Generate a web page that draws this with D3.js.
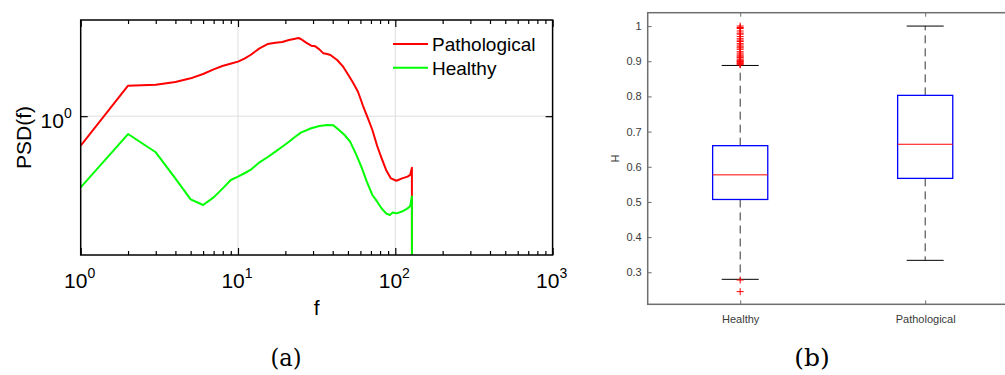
<!DOCTYPE html>
<html><head><meta charset="utf-8">
<script src="https://cdn.jsdelivr.net/npm/d3@7"></script>
<style>body{margin:0;background:#fff}svg{display:block}</style>
</head><body><svg id="c" width="1005" height="375"></svg>
<script>
// ---- Panel (a) data ----
const freqPath = [1,2,3,4,5,6,7,7.95,8.95,10,11,12,13.7,15.4,17.3,19.1,21.1,23.1,24.2,25.1,27.1,29.2,31,32.9,34.9,36.9,38.7,42.7,46.6,50.3,53.9,57.9,62.4,67,71.5,76.7,81.9,87.4,93.8,101.7,110.4,119.7,124.4,127.5,128];
const psdPath = [0.710,1.424,1.441,1.486,1.551,1.631,1.721,1.789,1.838,1.882,1.948,2.033,2.196,2.309,2.345,2.363,2.418,2.456,2.476,2.447,2.345,2.265,2.247,2.170,2.072,2.056,2.033,1.918,1.775,1.612,1.475,1.328,1.125,0.975,0.852,0.708,0.613,0.536,0.486,0.473,0.486,0.496,0.506,0.550,0.001];
const freqHealthy = [1,2,3,3.92,5,6,7,8,9,10,11,12,13.7,15.4,17.3,19.1,21.1,23.1,25.1,29.2,32.9,36.9,40.4,43.9,47.6,51.6,56,60.8,65.9,71.5,76.7,81.9,87.4,92.3,96.4,101.7,110.4,119.7,124.4,127.5,128];
const psdHealthy = [0.438,0.813,0.658,0.496,0.381,0.357,0.390,0.433,0.477,0.496,0.516,0.536,0.586,0.621,0.663,0.702,0.744,0.788,0.826,0.869,0.892,0.903,0.899,0.852,0.804,0.744,0.650,0.557,0.468,0.401,0.371,0.343,0.324,0.318,0.327,0.324,0.331,0.343,0.353,0.394,0.001];
const seriesNames = ["Pathological","Healthy"];
const seriesColors = ["#ff0000","#00ff00"];
const xMajorTicks = [1,10,100,1000];
const xTickExponents = ["0","1","2","3"];
const yMajorTicks = [1];
const yTickExponents = ["0"];

// ---- Panel (b) data ----
const boxCategories = ["Healthy","Pathological"];
const boxQ1 = [0.507,0.567];
const boxMedian = [0.577,0.664];
const boxQ3 = [0.660,0.803];
const whiskerLow = [0.280,0.334];
const whiskerHigh = [0.888,1.0];
const outliersHealthy = [1.0,0.996,0.993,0.986,0.98,0.977,0.970,0.964,0.96,0.956,0.95,0.946,0.941,0.938,0.934,0.927,0.923,0.918,0.915,0.912,0.910,0.906,0.903,0.901,0.899,0.896,0.894,0.892,0.89,0.278,0.245];
const outliersPathological = [];
const boxYTicks = [0.3,0.4,0.5,0.6,0.7,0.8,0.9,1];

const svg = d3.select("#c");
svg.append("rect").attr("width",1005).attr("height",375).attr("fill","#fff");

// ================= Panel (a) =================
const A = {l:80.7, r:552.6, t:20, b:255};
const xA = d3.scaleLog().domain([1,1000]).range([A.l,A.r]);
const yA = d3.scaleLog().domain([0.2,3.05]).range([A.b,A.t]);
const gA = svg.append("g");

// grid
gA.selectAll(".gx").data([10,100]).enter().append("line")
  .attr("x1",d=>xA(d)).attr("x2",d=>xA(d)).attr("y1",A.t).attr("y2",A.b)
  .attr("stroke","#dddddd").attr("stroke-width",1);
gA.selectAll(".gy").data(yMajorTicks).enter().append("line")
  .attr("x1",A.l).attr("x2",A.r).attr("y1",d=>yA(d)).attr("y2",d=>yA(d))
  .attr("stroke","#dddddd").attr("stroke-width",1);

// clip
svg.append("clipPath").attr("id","clipA").append("rect")
  .attr("x",A.l).attr("y",A.t).attr("width",A.r-A.l).attr("height",A.b-A.t);

const line = d3.line().x(d=>xA(d[0])).y(d=>yA(d[1]));
const seriesData = [d3.zip(freqPath,psdPath), d3.zip(freqHealthy,psdHealthy)];
gA.append("g").attr("clip-path","url(#clipA)").selectAll("path").data(seriesData).enter().append("path")
  .attr("d",line).attr("fill","none").attr("stroke",(d,i)=>seriesColors[i]).attr("stroke-width",2)
  .attr("stroke-linejoin","round");

// minor ticks
const minor = [];
for (let e=0;e<3;e++) for (let k=2;k<=9;k++) minor.push(k*Math.pow(10,e));
function styleAxis(g){ g.select(".domain").remove(); g.selectAll("line").attr("stroke","#000").attr("stroke-width",1.2); g.selectAll("text").remove(); }
gA.append("g").attr("transform",`translate(0,${A.b})`).call(d3.axisBottom(xA).tickValues(minor).tickSize(-4)).call(styleAxis);
gA.append("g").attr("transform",`translate(0,${A.t})`).call(d3.axisTop(xA).tickValues(minor).tickSize(-4)).call(styleAxis);
gA.append("g").attr("transform",`translate(0,${A.b})`).call(d3.axisBottom(xA).tickValues(xMajorTicks).tickSize(-7)).call(styleAxis);
gA.append("g").attr("transform",`translate(0,${A.t})`).call(d3.axisTop(xA).tickValues(xMajorTicks).tickSize(-7)).call(styleAxis);
gA.append("g").attr("transform",`translate(${A.l},0)`).call(d3.axisLeft(yA).tickValues(yMajorTicks).tickSize(-7)).call(styleAxis);
gA.append("g").attr("transform",`translate(${A.r},0)`).call(d3.axisRight(yA).tickValues(yMajorTicks).tickSize(-7)).call(styleAxis);

// box
gA.append("rect").attr("x",A.l).attr("y",A.t).attr("width",A.r-A.l).attr("height",A.b-A.t)
  .attr("fill","none").attr("stroke","#000").attr("stroke-width",1.5);

const fontA = "'Liberation Sans', Arial, sans-serif";
// x tick labels
const xl = gA.selectAll(".xl").data(xMajorTicks).enter().append("text")
  .attr("x",d=>xA(d)-1).attr("y",288).attr("text-anchor","middle")
  .attr("font-family",fontA).attr("font-size",21).attr("fill","#000");
xl.append("tspan").text("10");
xl.append("tspan").attr("dy",-10).attr("font-size",14).text((d,i)=>xTickExponents[i]);
// y tick labels
const yl = gA.selectAll(".yl").data(yMajorTicks).enter().append("text")
  .attr("x",A.l-9).attr("y",d=>yA(d)+11.5).attr("text-anchor","end")
  .attr("font-family",fontA).attr("font-size",21).attr("fill","#000");
yl.append("tspan").text("10");
yl.append("tspan").attr("dy",-10).attr("font-size",14).text((d,i)=>yTickExponents[i]);
// axis labels
gA.append("text").attr("x",(A.l+A.r)/2).attr("y",315).attr("text-anchor","middle")
  .attr("font-family",fontA).attr("font-size",21).text("f");
gA.append("text").attr("transform",`translate(31,${(A.t+A.b)/2}) rotate(-90)`).attr("text-anchor","middle")
  .attr("font-family",fontA).attr("font-size",21).text("PSD(f)");

// legend
const leg = gA.selectAll(".leg").data(seriesNames).enter().append("g")
  .attr("transform",(d,i)=>`translate(393,${44+i*23.7})`);
leg.append("line").attr("x1",0).attr("x2",35).attr("y1",0).attr("y2",0)
  .attr("stroke",(d,i)=>seriesColors[i]).attr("stroke-width",2);
leg.append("text").attr("x",39).attr("y",7).attr("font-family",fontA).attr("font-size",19).attr("fill","#000").text(d=>d);

// caption
const capFont = "'DejaVu Serif','Liberation Serif',serif";
svg.append("text").attr("x",286).attr("y",366).attr("text-anchor","middle")
  .attr("font-family",capFont).attr("font-size",25).attr("font-stretch","condensed").text("(a)");
svg.append("text").attr("x",812).attr("y",366).attr("text-anchor","middle")
  .attr("font-family",capFont).attr("font-size",25).text("(b)");

// ================= Panel (b) =================
const B = {l:647.7, r:1017.7, t:12.7, b:304.3};
const xB = d3.scaleLinear().domain([0.5,2.5]).range([B.l,B.r]);
const yB = d3.scaleLinear().domain([0.209,1.038]).range([B.b,B.t]);
const gB = svg.append("g");
const axisCol = "#6e6e6e";
const textCol = "#3a3a3a";
const fontB = "'Liberation Sans', Arial, sans-serif";

function styleB(g){ g.select(".domain").remove(); g.selectAll("line").attr("stroke",axisCol).attr("stroke-width",1); g.selectAll("text").attr("fill",textCol).attr("font-family",fontB).attr("font-size",11); }
gB.append("g").attr("transform",`translate(${B.l},0)`)
  .call(d3.axisLeft(yB).tickValues(boxYTicks).tickSize(-4).tickPadding(6).tickFormat(d3.format("~g"))).call(styleB);
gB.append("g").attr("transform",`translate(0,${B.b})`)
  .call(d3.axisBottom(xB).tickValues([1,2]).tickSize(-4).tickPadding(11).tickFormat((d,i)=>boxCategories[i])).call(styleB);
gB.append("g").attr("transform",`translate(0,${B.t})`)
  .call(d3.axisTop(xB).tickValues([1,2]).tickSize(-4).tickFormat("")).call(styleB);

// frame (right side off-canvas)
gB.append("rect").attr("x",B.l).attr("y",B.t).attr("width",B.r-B.l).attr("height",B.b-B.t)
  .attr("fill","none").attr("stroke",axisCol).attr("stroke-width",1.5);

gB.append("text").attr("transform",`translate(619,${(B.t+B.b)/2}) rotate(-90)`).attr("text-anchor","middle")
  .attr("font-family",fontB).attr("font-size",11).attr("fill",textCol).text("H");

const boxHalf = 0.149, capHalf = 0.1;
const idx = [0,1];
const bx = gB.selectAll(".bx").data(idx).enter().append("g");
// whiskers
bx.append("line").attr("x1",i=>xB(i+1)).attr("x2",i=>xB(i+1)).attr("y1",i=>yB(boxQ3[i])).attr("y2",i=>yB(whiskerHigh[i]))
  .attr("stroke","#333").attr("stroke-width",1).attr("stroke-dasharray","8,5");
bx.append("line").attr("x1",i=>xB(i+1)).attr("x2",i=>xB(i+1)).attr("y1",i=>yB(boxQ1[i])).attr("y2",i=>yB(whiskerLow[i]))
  .attr("stroke","#333").attr("stroke-width",1).attr("stroke-dasharray","8,5");
// caps
bx.append("line").attr("x1",i=>xB(i+1-capHalf)).attr("x2",i=>xB(i+1+capHalf)).attr("y1",i=>yB(whiskerHigh[i])).attr("y2",i=>yB(whiskerHigh[i]))
  .attr("stroke","#000").attr("stroke-width",1);
bx.append("line").attr("x1",i=>xB(i+1-capHalf)).attr("x2",i=>xB(i+1+capHalf)).attr("y1",i=>yB(whiskerLow[i])).attr("y2",i=>yB(whiskerLow[i]))
  .attr("stroke","#000").attr("stroke-width",1);
// box
bx.append("rect").attr("x",i=>xB(i+1-boxHalf)).attr("width",i=>xB(i+1+boxHalf)-xB(i+1-boxHalf))
  .attr("y",i=>yB(boxQ3[i])).attr("height",i=>yB(boxQ1[i])-yB(boxQ3[i]))
  .attr("fill","none").attr("stroke","#0000ff").attr("stroke-width",1.3);
// median
bx.append("line").attr("x1",i=>xB(i+1-boxHalf)).attr("x2",i=>xB(i+1+boxHalf)).attr("y1",i=>yB(boxMedian[i])).attr("y2",i=>yB(boxMedian[i]))
  .attr("stroke","#ff0000").attr("stroke-width",1);
// outliers
const outs = [];
outliersHealthy.forEach(v=>outs.push([1,v]));
outliersPathological.forEach(v=>outs.push([2,v]));
gB.selectAll(".out").data(outs).enter().append("path")
  .attr("d",d=>{const x=xB(d[0]),y=yB(d[1]);return `M${x-3.5},${y}H${x+3.5}M${x},${y-3.5}V${y+3.5}`;})
  .attr("stroke","#ff0000").attr("stroke-width",1).attr("fill","none");
</script></body></html>
